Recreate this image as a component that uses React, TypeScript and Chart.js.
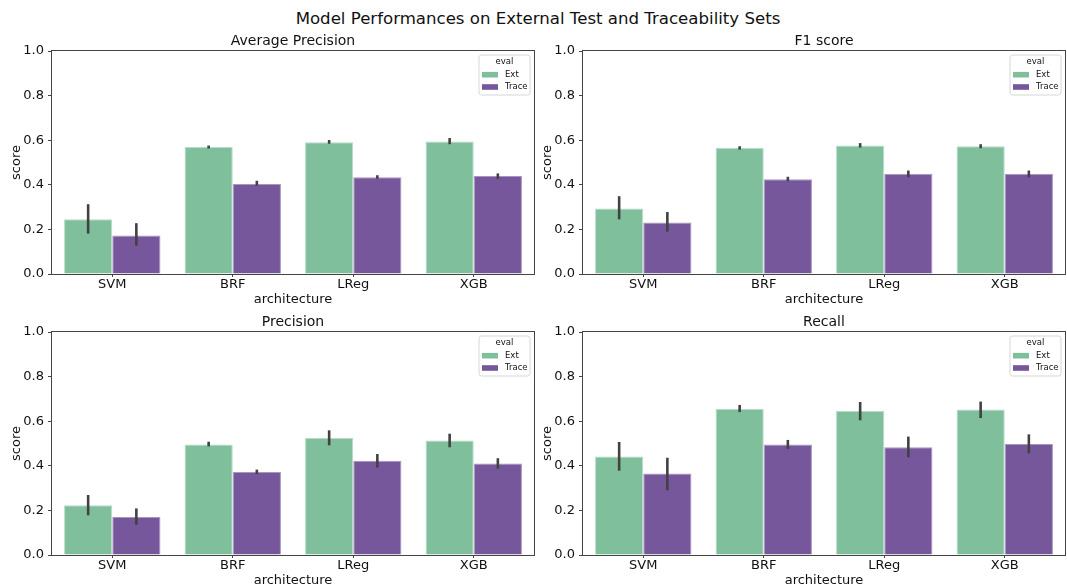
import React, { useEffect, useRef } from "react";
import { Chart, registerables } from "chart.js";

Chart.register(...registerables);

const suptitle = "Model Performances on External Test and Traceability Sets";
const categories = ["SVM", "BRF", "LReg", "XGB"];
const seriesNames = ["Ext", "Trace"];
const legendTitle = "eval";
const xTitle = "architecture";
const yTitle = "score";
const yTickValues = [0, 0.2, 0.4, 0.6, 0.8, 1.0];

// Average Precision
const apExt = [0.246, 0.569, 0.591, 0.594];
const apExtLo = [0.181, 0.563, 0.584, 0.582];
const apExtHi = [0.313, 0.576, 0.601, 0.61];
const apTrace = [0.173, 0.404, 0.434, 0.439];
const apTraceLo = [0.127, 0.396, 0.427, 0.427];
const apTraceHi = [0.228, 0.418, 0.443, 0.451];

// F1 score
const f1Ext = [0.294, 0.566, 0.576, 0.573];
const f1ExtLo = [0.245, 0.558, 0.567, 0.564];
const f1ExtHi = [0.349, 0.573, 0.587, 0.582];
const f1Trace = [0.231, 0.425, 0.449, 0.449];
const f1TraceLo = [0.19, 0.416, 0.434, 0.434];
const f1TraceHi = [0.278, 0.436, 0.464, 0.464];

// Precision
const prExt = [0.223, 0.495, 0.525, 0.514];
const prExtLo = [0.178, 0.487, 0.492, 0.483];
const prExtHi = [0.269, 0.508, 0.559, 0.544];
const prTrace = [0.17, 0.372, 0.423, 0.41];
const prTraceLo = [0.136, 0.363, 0.392, 0.387];
const prTraceHi = [0.209, 0.383, 0.453, 0.434];

// Recall
const reExt = [0.442, 0.656, 0.646, 0.652];
const reExtLo = [0.378, 0.641, 0.604, 0.614];
const reExtHi = [0.507, 0.673, 0.686, 0.688];
const reTrace = [0.365, 0.496, 0.483, 0.498];
const reTraceLo = [0.29, 0.475, 0.438, 0.456];
const reTraceHi = [0.436, 0.516, 0.531, 0.541];

const FONT = "'DejaVu Sans', sans-serif";
const TEXT = "#111111";
const SPINE = "#444444";
const colors = ["#7fbf9c", "#76579b"];
const edgeColors = ["#b7dcc7", "#a996c0"];

type PanelSpec = {
  title: string;
  values: number[][];
  lows: number[][];
  highs: number[][];
  left: number;
  top: number;
  width: number;
  height: number;
  padRight: number;
};

const panels: PanelSpec[] = [
  { title: "Average Precision", values: [apExt, apTrace], lows: [apExtLo, apTraceLo], highs: [apExtHi, apTraceHi], left: 0, top: 28, width: 540, height: 278, padRight: 6 },
  { title: "F1 score", values: [f1Ext, f1Trace], lows: [f1ExtLo, f1TraceLo], highs: [f1ExtHi, f1TraceHi], left: 531, top: 28, width: 536, height: 278, padRight: 2 },
  { title: "Precision", values: [prExt, prTrace], lows: [prExtLo, prTraceLo], highs: [prExtHi, prTraceHi], left: 0, top: 309, width: 540, height: 278, padRight: 6 },
  { title: "Recall", values: [reExt, reTrace], lows: [reExtLo, reTraceLo], highs: [reExtHi, reTraceHi], left: 531, top: 309, width: 536, height: 278, padRight: 2 },
];

function makeChart(canvas: HTMLCanvasElement, p: PanelSpec) {
  const errorBars = {
    id: "errorBars",
    afterDatasetsDraw(chart: any) {
      const ctx = chart.ctx;
      const yScale = chart.scales.y;
      ctx.save();
      ctx.strokeStyle = "#424242";
      ctx.lineWidth = 2.6;
      ctx.lineCap = "butt";
      p.values.forEach((_, di) => {
        const meta = chart.getDatasetMeta(di);
        meta.data.forEach((el: any, j: number) => {
          const y1 = yScale.getPixelForValue(p.lows[di][j]);
          const y2 = yScale.getPixelForValue(p.highs[di][j]);
          ctx.beginPath();
          ctx.moveTo(el.x, y1);
          ctx.lineTo(el.x, y2);
          ctx.stroke();
        });
      });
      ctx.restore();
    },
  };
  const frameAndLegend = {
    id: "frameAndLegend",
    afterDraw(chart: any) {
      const ctx = chart.ctx;
      const a = chart.chartArea;
      ctx.save();
      ctx.strokeStyle = SPINE;
      ctx.lineWidth = 1;
      ctx.strokeRect(Math.round(a.left) - 0.5, Math.round(a.top) - 0.5, Math.round(a.right - a.left) + 1, Math.round(a.bottom - a.top) + 1);
      // panel title centred over the plotting area
      ctx.fillStyle = TEXT;
      ctx.font = `14px ${FONT}`;
      ctx.textAlign = "center";
      ctx.textBaseline = "middle";
      ctx.fillText(p.title, (a.left + a.right) / 2, 13);
      // legend
      const bw = 51, bh = 40;
      const bx = a.right - 4 - bw;
      const by = a.top + 4;
      ctx.beginPath();
      const r = 2.5;
      ctx.moveTo(bx + r, by);
      ctx.lineTo(bx + bw - r, by);
      ctx.quadraticCurveTo(bx + bw, by, bx + bw, by + r);
      ctx.lineTo(bx + bw, by + bh - r);
      ctx.quadraticCurveTo(bx + bw, by + bh, bx + bw - r, by + bh);
      ctx.lineTo(bx + r, by + bh);
      ctx.quadraticCurveTo(bx, by + bh, bx, by + bh - r);
      ctx.lineTo(bx, by + r);
      ctx.quadraticCurveTo(bx, by, bx + r, by);
      ctx.closePath();
      ctx.fillStyle = "rgba(255,255,255,0.8)";
      ctx.fill();
      ctx.strokeStyle = "#d6d6d6";
      ctx.lineWidth = 1;
      ctx.stroke();
      ctx.fillStyle = TEXT;
      ctx.font = `8.5px ${FONT}`;
      ctx.textBaseline = "middle";
      ctx.textAlign = "center";
      ctx.fillText(legendTitle, bx + bw / 2, by + 7);
      ctx.textAlign = "left";
      seriesNames.forEach((name, i) => {
        const cy = by + 19.7 + i * 12.3;
        ctx.fillStyle = colors[i];
        ctx.fillRect(bx + 3, cy - 2.8, 16, 5.6);
        ctx.fillStyle = TEXT;
        ctx.fillText(name, bx + 26, cy);
      });
      ctx.restore();
    },
  };

  return new Chart(canvas, {
    type: "bar",
    data: {
      labels: categories,
      datasets: p.values.map((vals, i) => ({
        label: seriesNames[i],
        data: vals,
        backgroundColor: colors[i],
        borderColor: edgeColors[i],
        borderWidth: 1,
        borderSkipped: "start",
        categoryPercentage: 0.8,
        barPercentage: 1.0,
      })),
    },
    options: {
      responsive: false,
      animation: false,
      devicePixelRatio: 1,
      layout: { padding: { left: 0, right: p.padRight, top: 23, bottom: 0 } },
      plugins: {
        legend: { display: false },
        tooltip: { enabled: false },
        title: { display: false },
      },
      scales: {
        x: {
          type: "category",
          offset: true,
          border: { display: false },
          grid: { display: true, drawOnChartArea: false, drawTicks: true, tickLength: 3, color: SPINE, offset: false },
          ticks: { color: TEXT, font: { family: FONT, size: 13, lineHeight: 1.2 }, padding: 0, maxRotation: 0 },
          title: { display: true, text: xTitle, color: TEXT, font: { family: FONT, size: 13, lineHeight: 1 }, padding: { top: 0, bottom: 0 } },
          afterFit: (s: any) => { s.height = 32; },
        },
        y: {
          min: 0,
          max: 1,
          border: { display: false },
          grid: { display: true, drawOnChartArea: false, drawTicks: true, tickLength: 4, color: SPINE },
          afterBuildTicks: (s: any) => { s.ticks = yTickValues.map((v) => ({ value: v })); },
          ticks: { color: TEXT, font: { family: FONT, size: 13 }, padding: 4, callback: (v: any) => Number(v).toFixed(1) },
          title: { display: true, text: yTitle, color: TEXT, font: { family: FONT, size: 13, lineHeight: 1 }, padding: { top: 10, bottom: 0 } },
          afterFit: (s: any) => { s.width = 52; },
        },
      },
    },
    plugins: [errorBars, frameAndLegend],
  } as any);
}

export default function App() {
  const refs = useRef<(HTMLCanvasElement | null)[]>([]);
  useEffect(() => {
    const charts = panels.map((p, i) => makeChart(refs.current[i] as HTMLCanvasElement, p));
    return () => charts.forEach((c) => c.destroy());
  }, []);
  return (
    <div style={{ position: "absolute", left: 0, top: 0, width: 1067, height: 587, overflow: "hidden", background: "#ffffff" }}>
      <div
        style={{
          position: "absolute",
          left: 0,
          top: 9,
          width: 1076,
          height: 20,
          lineHeight: "20px",
          textAlign: "center",
          fontFamily: FONT,
          fontSize: 16.6,
          color: TEXT,
          whiteSpace: "nowrap",
        }}
      >
        {suptitle}
      </div>
      {panels.map((p, i) => (
        <canvas
          key={p.title}
          ref={(el) => { refs.current[i] = el; }}
          width={p.width}
          height={p.height}
          style={{ position: "absolute", left: p.left, top: p.top, width: p.width, height: p.height }}
        />
      ))}
    </div>
  );
}
